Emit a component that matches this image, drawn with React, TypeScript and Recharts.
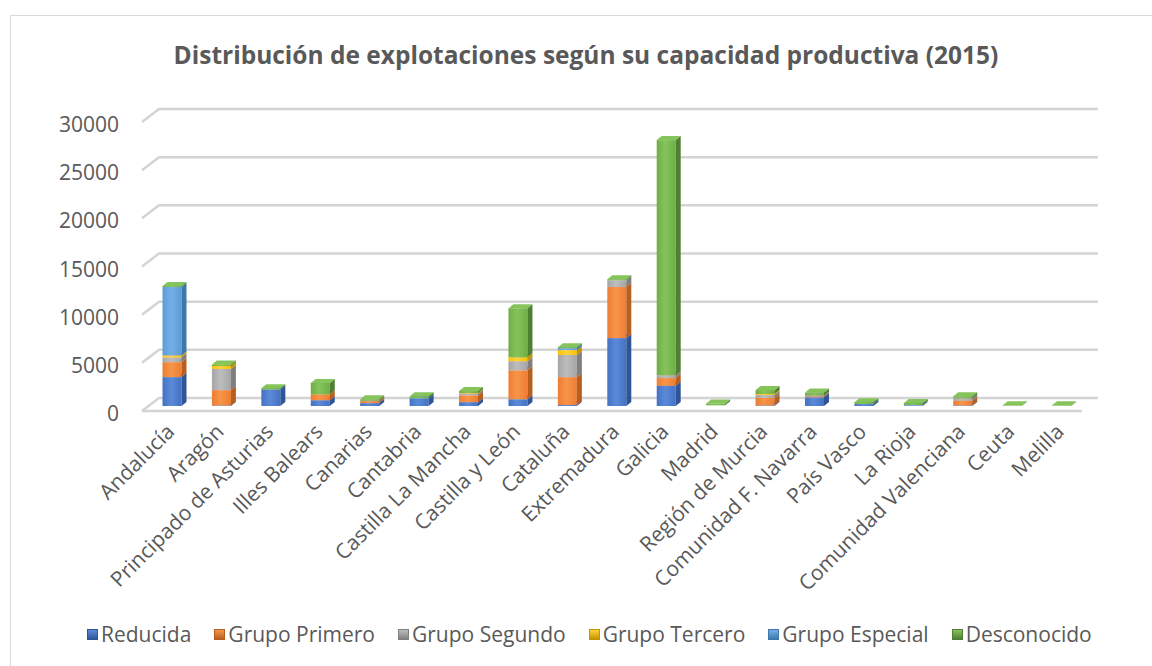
import React from "react";
import { BarChart, Bar, XAxis, YAxis, CartesianGrid } from "recharts";

const categories = ["Andalucía","Aragón","Principado de Asturias","Illes Balears","Canarias","Cantabria","Castilla La Mancha","Castilla y León","Cataluña","Extremadura","Galicia","Madrid","Región de Murcia","Comunidad F. Navarra","País Vasco","La Rioja","Comunidad Valenciana","Ceuta","Melilla"];
const reducida = [3000, 50, 1700, 600, 300, 800, 400, 700, 100, 7050, 2100, 20, 50, 900, 200, 50, 50, 10, 10];
const grupoPrimero = [1550, 1600, 0, 600, 200, 0, 700, 3000, 2900, 5300, 800, 30, 800, 100, 0, 30, 500, 0, 0];
const grupoSegundo = [500, 2200, 0, 0, 50, 0, 200, 950, 2300, 700, 300, 20, 300, 100, 0, 20, 250, 0, 0];
const grupoTercero = [200, 300, 0, 0, 0, 0, 50, 400, 500, 0, 0, 0, 100, 0, 0, 0, 0, 0, 0];
const grupoEspecial = [7100, 0, 0, 0, 0, 0, 0, 0, 200, 0, 0, 0, 0, 0, 0, 0, 0, 0, 0];
const desconocido = [100, 150, 150, 1200, 150, 200, 200, 5100, 100, 100, 24400, 200, 400, 300, 200, 200, 200, 60, 60];
const yTicks = [0, 5000, 10000, 15000, 20000, 25000, 30000];

const seriesDefs = [
  { key: "reducida", name: "Reducida", values: reducida, color: "#4472C4", light: "#5b8ad8", dark: "#2f5597" },
  { key: "primero", name: "Grupo Primero", values: grupoPrimero, color: "#ED7D31", light: "#f7954a", dark: "#b85f1f" },
  { key: "segundo", name: "Grupo Segundo", values: grupoSegundo, color: "#A5A5A5", light: "#bdbdbd", dark: "#7f7f7f" },
  { key: "tercero", name: "Grupo Tercero", values: grupoTercero, color: "#FFC000", light: "#ffd23f", dark: "#c79400" },
  { key: "especial", name: "Grupo Especial", values: grupoEspecial, color: "#5B9BD5", light: "#74b0e6", dark: "#3e77ab" },
  { key: "desconocido", name: "Desconocido", values: desconocido, color: "#70AD47", light: "#85c45a", dark: "#507e32" },
];

const data = categories.map((c, i) => {
  const row: any = { name: c };
  seriesDefs.forEach((s) => { row[s.key] = s.values[i]; });
  return row;
});

const TEXT = "#595959";
const FONT = "'Open Sans', sans-serif";
const DX = 5;
const DY = 4;

function Bar3D(props: any) {
  const { x, y, width, height, sdef } = props;
  if (!height || height <= 0.3) return null;
  const xx = x - 2.5;
  return (
    <g>
      <rect x={xx} y={y} width={width} height={height} fill={`url(#g-${sdef.key})`} />
      <path d={`M${xx + width},${y} L${xx + width + DX},${y - DY} L${xx + width + DX},${y + height - DY} L${xx + width},${y + height} Z`} fill={sdef.dark} />
      <path d={`M${xx},${y} L${xx + DX},${y - DY} L${xx + width + DX},${y - DY} L${xx + width},${y} Z`} fill={sdef.light} />
    </g>
  );
}

function GridLine(props: any) {
  const { x1, x2, y1, index } = props;
  const y = y1;
  const isZero = Math.abs(y - 406) < 1;
  return (
    <g key={`gl-${index}`}>
      <path d={`M${x1 - 8},${y + 5} L${x1 + 9},${y - 8} L${x2 + 9},${y - 8}`} fill="none" stroke="#d4d4d4" strokeWidth={2.5} />
      {isZero ? <path d={`M${x1 - 8},${y + 5} L${x2 - 7},${y + 5}`} fill="none" stroke="#d4d4d4" strokeWidth={2.5} /> : null}
    </g>
  );
}

function YTick(props: any) {
  const { y, payload } = props;
  return (
    <text x={119} y={y + 7} textAnchor="end" dominantBaseline="central" fontSize={21} fontFamily={FONT} fill={TEXT}>
      {payload.value}
    </text>
  );
}

function XTick(props: any) {
  const { x, payload } = props;
  const ax = x + 1;
  const ay = 433;
  return (
    <text x={ax} y={ay} textAnchor="end" transform={`rotate(-45, ${ax}, ${ay})`} fontSize={21} fontFamily={FONT} fill={TEXT}>
      {payload.value}
    </text>
  );
}

export default function App() {
  return (
    <div style={{ position: "absolute", left: 0, top: 0, width: 1152, height: 666, background: "#fff", overflow: "hidden" }}>
      <svg width={0} height={0} style={{ position: "absolute" }}>
        <defs>
          {seriesDefs.map((s) => (
            <linearGradient key={s.key} id={`g-${s.key}`} x1="0" y1="0" x2="1" y2="0">
              <stop offset="0%" stopColor={s.color} />
              <stop offset="45%" stopColor={s.light} />
              <stop offset="100%" stopColor={s.color} />
            </linearGradient>
          ))}
        </defs>
      </svg>
      <div style={{ position: "absolute", left: 10, top: 15, width: 1200, height: 700, borderLeft: "1.5px solid #d9d9d9", borderTop: "1.5px solid #d9d9d9" }} />
      <div style={{ position: "absolute", left: 0, top: 38, width: 1172, textAlign: "center", fontFamily: FONT, fontWeight: 700, fontSize: 24.5, color: TEXT, whiteSpace: "nowrap" }}>
        Distribución de explotaciones según su capacidad productiva (2015)
      </div>
      <div style={{ position: "absolute", left: 0, top: 0 }}>
        <BarChart width={1152} height={666} data={data} margin={{ top: 117, right: 63, left: 0, bottom: 60 }} barSize={19}>
          <CartesianGrid vertical={false} horizontal={(p: any) => <GridLine {...p} />} />
          <YAxis domain={[0, 30000]} ticks={yTicks} width={150} axisLine={false} tickLine={false} tick={<YTick />} interval={0} />
          <XAxis dataKey="name" height={200} axisLine={false} tickLine={false} tick={<XTick />} interval={0} />
          {seriesDefs.map((s) => (
            <Bar key={s.key} dataKey={s.key} name={s.name} stackId="a" fill={s.color} isAnimationActive={false}
              shape={(p: any) => <Bar3D {...p} sdef={s} />} />
          ))}
        </BarChart>
      </div>
      <div style={{ position: "absolute", left: 87, top: 620, display: "flex", alignItems: "center", fontFamily: FONT, fontSize: 21, color: TEXT, whiteSpace: "nowrap" }}>
        {seriesDefs.map((s, i) => (
          <div key={s.key} style={{ display: "flex", alignItems: "center", marginRight: i < seriesDefs.length - 1 ? 23 : 0 }}>
            <div style={{ width: 11, height: 11, background: `linear-gradient(180deg, ${s.light}, ${s.dark})`, border: `1px solid ${s.dark}`, marginRight: 3, boxSizing: "border-box" }} />
            <span>{s.name}</span>
          </div>
        ))}
      </div>
    </div>
  );
}
